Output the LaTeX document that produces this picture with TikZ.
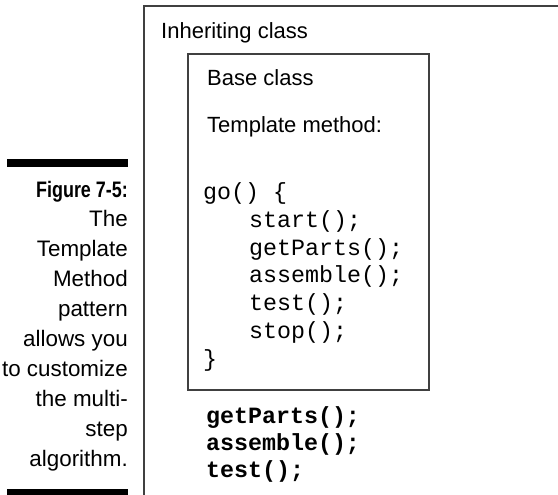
\documentclass[tikz,border=0pt]{standalone}
\usepackage{fontspec}
\setmainfont{Liberation Sans}
\setmonofont{Liberation Mono}
\newfontfamily\capboldfont[FakeStretch=0.8]{Liberation Sans}
\usetikzlibrary{positioning}

\tikzset{
  frame/.style={draw=black!75, line width=1.2pt},
  label/.style={anchor=base west, inner sep=0pt, font=\fontsize{22}{26}\selectfont},
  code/.style={anchor=base west, inner sep=0pt, font=\fontsize{23.3}{27}\ttfamily},
  hook/.style={anchor=base west, inner sep=0pt, font=\fontsize{23.3}{27}\ttfamily\bfseries},
  caption/.style={anchor=base east, inner sep=0pt, font=\fontsize{22.4}{30}\selectfont},
}

\begin{document}
\begin{tikzpicture}[x=1pt, y=-1pt, line join=miter]
  \useasboundingbox (0,0) rectangle (558,495);

  % inheriting class, open to the right and the bottom
  \draw[frame] (144,495) -- (144,6) -- (558,6);
  \node[label] (inherit) at (161,39) {Inheriting class};

  % base class with its template method
  \draw[frame] (188,54) rectangle (429,390);
  \node[label] (base) at (207,86) {Base class};
  \node[label] (tmpl) at (207,133) {Template method:};
  \node[code] (go) at (203,200) {go() \{};
  \foreach \call [count=\i] in {{start();},{getParts();},{assemble();},{test();},{stop();}}
    \node[code] (call\i) at (249,200+27.6*\i) {\call};
  \node[code] (close) at (203,366) {\}};

  % steps the inheriting class fills in
  \foreach \call [count=\i] in {{getParts();},{assemble();},{test();}}
    \node[hook] (hook\i) at (206,396+27*\i) {\call};

  % figure caption
  \fill (7,159) rectangle (128,167);
  \node[caption, font=\fontsize{22.4}{30}\capboldfont\bfseries] (cap0) at (128,197) {Figure 7-5:};
  \foreach \txt [count=\i] in {The,Template,Method,pattern,{allows you},{to customize},{the multi-},step,algorithm.}
    \node[caption] (cap\i) at (128,197+29.9*\i) {\txt};
  \fill (7,489) rectangle (128,495);
\end{tikzpicture}
\end{document}
